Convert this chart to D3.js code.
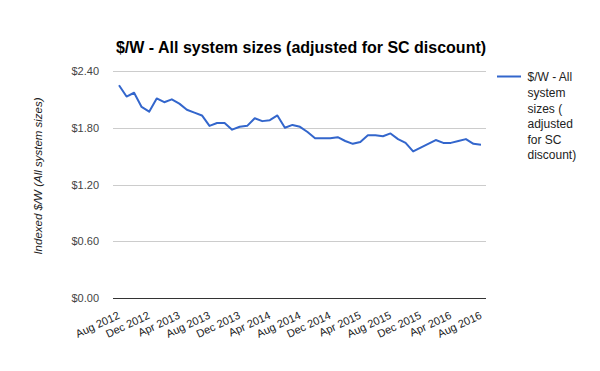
<!DOCTYPE html>
<html>
<head>
<meta charset="utf-8">
<script src="https://cdn.jsdelivr.net/npm/d3@7"></script>
<style>
  body { margin: 0; background: #fff; }
  text { font-family: Arial, "Liberation Sans", sans-serif; }
</style>
</head>
<body>
<div id="chart"></div>
<script>
const months = [
  'Aug 2012','Sep 2012','Oct 2012','Nov 2012','Dec 2012','Jan 2013','Feb 2013','Mar 2013',
  'Apr 2013','May 2013','Jun 2013','Jul 2013','Aug 2013','Sep 2013','Oct 2013','Nov 2013',
  'Dec 2013','Jan 2014','Feb 2014','Mar 2014','Apr 2014','May 2014','Jun 2014','Jul 2014',
  'Aug 2014','Sep 2014','Oct 2014','Nov 2014','Dec 2014','Jan 2015','Feb 2015','Mar 2015',
  'Apr 2015','May 2015','Jun 2015','Jul 2015','Aug 2015','Sep 2015','Oct 2015','Nov 2015',
  'Dec 2015','Jan 2016','Feb 2016','Mar 2016','Apr 2016','May 2016','Jun 2016','Jul 2016',
  'Aug 2016'
];
const pricePerWatt = [
  2.25, 2.13, 2.17, 2.02, 1.97, 2.11, 2.07, 2.10, 2.055, 1.99, 1.96, 1.93,
  1.82, 1.85, 1.85, 1.78, 1.81, 1.82, 1.90, 1.87, 1.88, 1.93, 1.80, 1.83,
  1.81, 1.755, 1.69, 1.69, 1.69, 1.70, 1.66, 1.63, 1.65, 1.72, 1.72, 1.71,
  1.74, 1.68, 1.64, 1.55, 1.59, 1.63, 1.67, 1.64, 1.64, 1.66, 1.68, 1.63,
  1.62
];
const yTicks = [0, 0.6, 1.2, 1.8, 2.4];
const tickMonths = months.filter((d, i) => i % 4 === 0);
const seriesName = ['$/W - All', 'system', 'sizes (', 'adjusted', 'for SC', 'discount)'];

const width = 600, height = 371;
const plotLeft = 113, plotRight = 486, plotTop = 71, plotBottom = 298;

const svg = d3.select('#chart').append('svg').attr('width', width).attr('height', height);

const x = d3.scalePoint().domain(months).range([119, 481]);
const y = d3.scaleLinear().domain([0, 2.4]).range([plotBottom, plotTop]);

// gridlines
svg.append('g')
  .selectAll('line')
  .data(yTicks)
  .enter()
  .append('line')
  .attr('x1', plotLeft).attr('x2', plotRight)
  .attr('y1', (d) => Math.round(y(d)) + 0.5).attr('y2', (d) => Math.round(y(d)) + 0.5)
  .attr('stroke', (d) => (d === 0 ? '#333' : '#ccc'))
  .attr('stroke-width', 1);

// y axis labels
const yAxis = svg.append('g')
  .attr('transform', `translate(${plotLeft - 11}, 0)`)
  .call(d3.axisLeft(y).tickValues(yTicks).tickSize(0).tickFormat((d) => '$' + d3.format('.2f')(d)));
yAxis.select('.domain').remove();
yAxis.selectAll('text').attr('font-size', 11).attr('fill', '#444')
  .style('font-family', 'Arial, "Liberation Sans", sans-serif');

// x axis labels, slanted
const xAxis = svg.append('g')
  .attr('transform', `translate(0, ${plotBottom + 6})`)
  .call(d3.axisBottom(x).tickValues(tickMonths).tickSize(0));
xAxis.select('.domain').remove();
xAxis.selectAll('text')
  .attr('font-size', 11).attr('fill', '#222')
  .style('font-family', 'Arial, "Liberation Sans", sans-serif')
  .attr('text-anchor', 'end')
  .attr('x', 0).attr('y', 0).attr('dy', 0)
  .attr('transform', 'translate(1, 14) rotate(-25)');

// line
const line = d3.line()
  .x((d, i) => x(months[i]))
  .y((d) => y(d));

svg.append('path')
  .datum(pricePerWatt)
  .attr('d', line)
  .attr('fill', 'none')
  .attr('stroke', '#3366cc')
  .attr('stroke-width', 2)
  .attr('stroke-linejoin', 'round');

// title
svg.append('text')
  .attr('x', 301).attr('y', 53)
  .attr('text-anchor', 'middle')
  .attr('font-size', 16).attr('font-weight', 'bold').attr('fill', '#000')
  .text('$/W - All system sizes (adjusted for SC discount)');

// y axis title
svg.append('text')
  .attr('transform', 'translate(42, 176) rotate(-90)')
  .attr('text-anchor', 'middle')
  .attr('font-size', 11.5).attr('font-style', 'italic').attr('fill', '#222')
  .text('Indexed $/W (All system sizes)');

// legend
const legend = svg.append('g');
legend.append('line')
  .attr('x1', 497).attr('x2', 521).attr('y1', 76.5).attr('y2', 76.5)
  .attr('stroke', '#3366cc').attr('stroke-width', 2);
legend.selectAll('text')
  .data(seriesName)
  .enter()
  .append('text')
  .attr('x', 527.5)
  .attr('y', (d, i) => 81.3 + i * 15.6)
  .attr('font-size', 12).attr('fill', '#222')
  .text((d) => d);
</script>
</body>
</html>
